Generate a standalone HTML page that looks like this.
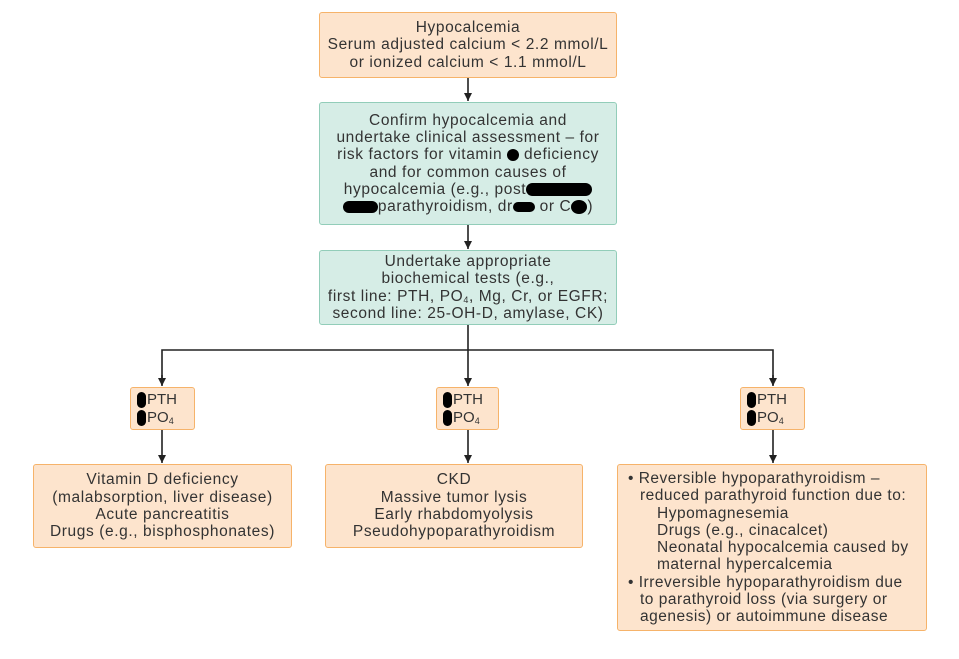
<!DOCTYPE html>
<html><head><style>
body{margin:0;width:959px;height:659px;background:#fff;position:relative;font-family:"Liberation Sans",Arial,sans-serif;color:#333;overflow:hidden}
.b{position:absolute;box-sizing:border-box;border-radius:3px;text-align:center;font-size:15.5px;letter-spacing:0.6px;line-height:17.3px;display:flex;flex-direction:column;justify-content:center}
.o{background:#fde4cd;border:1.5px solid #f6b36a}
.g{background:#d6ede6;border:1.5px solid #92cdb9}
.blob{display:inline-block;background:#000;border-radius:50%;vertical-align:middle}
.s{text-align:left;padding-left:6px;font-size:15px;letter-spacing:0;line-height:18px}
.s .blob{width:9px;height:16px;margin-right:1px;border-radius:5px}
sub{font-size:9px;vertical-align:-2px;line-height:0}
</style></head><body>
<svg width="959" height="659" style="position:absolute;left:0;top:0">
<defs><marker id="a" markerWidth="9" markerHeight="9" refX="8" refY="4" orient="auto" markerUnits="userSpaceOnUse"><path d="M0,0 L8,4 L0,8 z" fill="#222"/></marker></defs>
<g stroke="#222" stroke-width="1.6" fill="none">
<line x1="468" y1="78" x2="468" y2="101" marker-end="url(#a)"/>
<line x1="468" y1="225" x2="468" y2="249" marker-end="url(#a)"/>
<line x1="468" y1="325" x2="468" y2="386" marker-end="url(#a)"/>
<polyline points="162,385 162,350 773,350 773,385"/>
<line x1="162" y1="375" x2="162" y2="386" marker-end="url(#a)"/>
<line x1="773" y1="375" x2="773" y2="386" marker-end="url(#a)"/>
<line x1="162" y1="430" x2="162" y2="463" marker-end="url(#a)"/>
<line x1="468" y1="430" x2="468" y2="463" marker-end="url(#a)"/>
<line x1="773" y1="430" x2="773" y2="463" marker-end="url(#a)"/>
</g></svg>
<div class="b o" style="left:319px;top:12px;width:298px;height:66px"><div>Hypocalcemia<br>Serum adjusted calcium &lt; 2.2 mmol/L<br>or ionized calcium &lt; 1.1 mmol/L</div></div>
<div class="b g" style="left:319px;top:102px;width:298px;height:123px"><div>Confirm hypocalcemia and<br>undertake clinical assessment – for<br>risk factors for vitamin <span class="blob" style="width:12px;height:12px"></span> deficiency<br>and for common causes of<br>hypocalcemia (e.g., post<span class="blob" style="width:66px;height:13px;border-radius:7px"></span><br><span class="blob" style="width:35px;height:12px;border-radius:6px"></span>parathyroidism, dr<span class="blob" style="width:22px;height:10px;border-radius:5px"></span> or C<span class="blob" style="width:16px;height:14px"></span>)</div></div>
<div class="b g" style="left:319px;top:250px;width:298px;height:75px"><div>Undertake appropriate<br>biochemical tests (e.g.,<br>first line: PTH, PO<sub>4</sub>, Mg, Cr, or EGFR;<br>second line: 25-OH-D, amylase, CK)</div></div>
<div class="b o s" style="left:130px;top:387px;width:65px;height:43px"><div><span class="blob"></span>PTH</div><div><span class="blob"></span>PO<sub>4</sub></div></div>
<div class="b o s" style="left:436px;top:387px;width:63px;height:43px"><div><span class="blob"></span>PTH</div><div><span class="blob"></span>PO<sub>4</sub></div></div>
<div class="b o s" style="left:740px;top:387px;width:65px;height:43px"><div><span class="blob"></span>PTH</div><div><span class="blob"></span>PO<sub>4</sub></div></div>
<div class="b o" style="left:33px;top:464px;width:259px;height:84px"><div>Vitamin D deficiency<br>(malabsorption, liver disease)<br>Acute pancreatitis<br>Drugs (e.g., bisphosphonates)</div></div>
<div class="b o" style="left:325px;top:464px;width:258px;height:84px"><div>CKD<br>Massive tumor lysis<br>Early rhabdomyolysis<br>Pseudohypoparathyroidism</div></div>
<div class="b o" style="left:617px;top:464px;width:310px;height:167px;text-align:left;padding-left:10px;justify-content:flex-start;padding-top:5px;letter-spacing:0.5px">
<div>• Reversible hypoparathyroidism –</div>
<div style="padding-left:12px">reduced parathyroid function due to:</div>
<div style="padding-left:29px">Hypomagnesemia<br>Drugs (e.g., cinacalcet)<br>Neonatal hypocalcemia caused by<br>maternal hypercalcemia</div>
<div>• Irreversible hypoparathyroidism due</div>
<div style="padding-left:12px">to parathyroid loss (via surgery or<br>agenesis) or autoimmune disease</div>
</div>
</body></html>
